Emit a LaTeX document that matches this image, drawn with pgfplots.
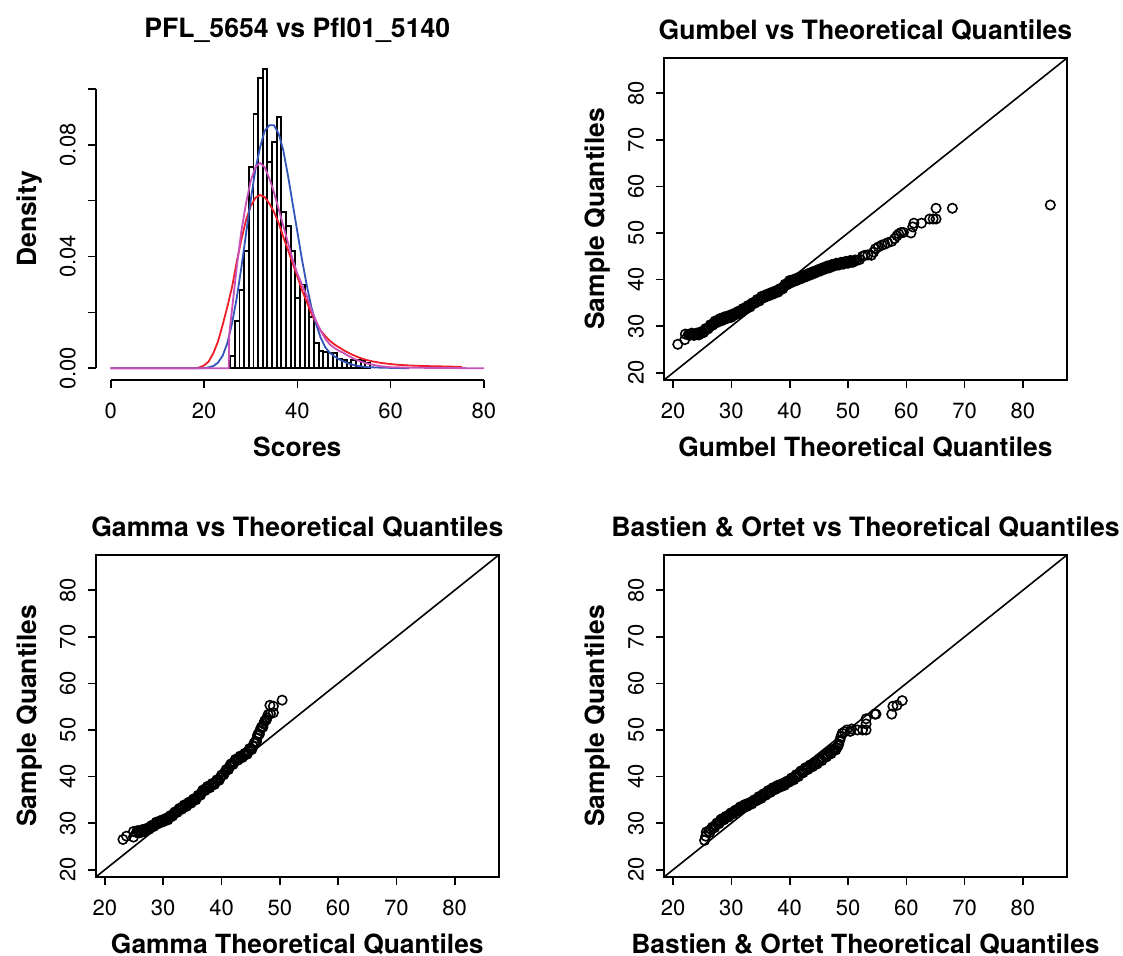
\documentclass[border=0pt]{standalone}
\usepackage{pgfplots}
\pgfplotsset{compat=1.18}
\usepackage{fontspec}
\setmainfont{TeX Gyre Heros}
\definecolor{cred}{RGB}{240,30,40}
\definecolor{cblue}{RGB}{50,85,185}
\definecolor{cpurple}{RGB}{200,80,185}
\newcommand{\labfont}{\fontsize{13.2}{15}\selectfont\bfseries}
\pgfplotsset{
  rstyle/.style={
    scale only axis, width=201.5pt, height=161pt, anchor=south west,
    /pgf/number format/assume math mode=true,
    tick align=outside, major tick length=4pt, tick pos=left,
    every tick/.style={black, line width=0.8pt},
    axis line style={line width=0.8pt},
    ticklabel style={font=\fontsize{11}{13}\selectfont},
    yticklabel style={rotate=90, anchor=south},
    xticklabel shift=4pt, yticklabel shift=2.5pt,
    every axis title/.style={at={(axis description cs:0.5,1)}, anchor=center, yshift=14pt, font=\fontsize{13.3}{15}\selectfont\bfseries},
    every axis x label/.style={at={(axis description cs:0.5,0)}, anchor=center, yshift=-33.5pt, font=\labfont},
    every axis y label/.style={at={(axis description cs:0,0.5)}, anchor=center, xshift=-33pt, rotate=90, font=\labfont},
  },
  qq/.style={rstyle, xmin=18.44, xmax=87.56, ymin=18.44, ymax=87.56,
    xtick={20,30,...,80}, ytick={20,30,...,80}, ylabel={Sample Quantiles}},
  qqpts/.style={only marks, mark=o, mark size=2.35pt, mark options={line width=0.8pt, black}},
}
\begin{document}
\begin{tikzpicture}
\path[use as bounding box] (0,0) rectangle (561.5pt,478pt);

% ---------------- Histogram ----------------
\begin{axis}[rstyle, at={(47.9pt,288pt)},
  xmin=-3.2, xmax=83.2, ymin=-0.0042, ymax=0.1111,
  axis x line*=bottom, axis y line*=left, axis line style={draw=none},
  xtick={0,20,40,60,80}, ytick={0,0.02,0.04,0.06,0.08,0.1},
  yticklabels={0.00,,0.04,,0.08,},
  title={PFL\_5654 vs Pfl01\_5140}, xlabel={Scores}, ylabel={Density}, clip=false]
\draw[line width=0.8pt] (axis cs:0,-0.0042) -- (axis cs:80,-0.0042);
\draw[line width=0.8pt] (axis cs:-3.2,0) -- (axis cs:-3.2,0.1);
\addplot[ybar interval, draw=black, fill=none, line width=0.95pt] coordinates {
(25.6,0.0044) (26.6,0.017) (27.6,0.028) (28.6,0.042) (29.6,0.072) (30.6,0.091)
(31.6,0.104) (32.6,0.107) (33.6,0.074) (34.6,0.081) (35.6,0.090) (36.6,0.056)
(37.6,0.051) (38.6,0.042) (39.6,0.025) (40.6,0.030) (41.6,0.024) (42.6,0.0185)
(43.6,0.0092) (44.6,0.0062) (45.6,0.0058) (46.6,0.0055) (47.6,0.0055) (48.6,0.0035)
(49.6,0.0028) (50.6,0.002) (51.6,0.0028) (52.6,0.0028) (53.6,0.0025) (54.6,0.0018) (55.6,0)};
\addplot[cred, line width=0.9pt, mark=none] coordinates {
(0,0) (18,0) (19,0.0003) (20,0.001) (21,0.0024) (22,0.0054) (23,0.0096) (24,0.0155)
(25,0.022) (26,0.029) (27,0.038) (28,0.046) (29,0.053) (30,0.058) (31,0.061) (32,0.062)
(33,0.0613) (34,0.059) (35,0.056) (36,0.052) (37,0.047) (38,0.0424) (39,0.0376) (40,0.0329)
(41,0.028) (42,0.0239) (43,0.0197) (44,0.0161) (45,0.0135) (46,0.0115) (47,0.0098)
(48,0.0085) (49,0.0074) (50,0.0064) (51,0.0055) (52,0.0047) (53,0.0040) (54,0.0034)
(55,0.0029) (56,0.0025) (58,0.0019) (60,0.0015) (62,0.0012) (64,0.0010) (67,0.0008)
(70,0.0007) (75.3,0.0005)};
\addplot[cblue, line width=0.9pt, mark=none] coordinates {
(0,0) (20,0) (21,0.0003) (22,0.0008) (23,0.002) (24,0.0045) (25,0.009) (26,0.016)
(27,0.025) (28,0.036) (29,0.048) (30,0.060) (31,0.071) (32,0.079) (33,0.085) (34,0.087)
(35,0.087) (36,0.084) (37,0.078) (38,0.069) (39,0.059) (40,0.049) (41,0.039) (42,0.030)
(43,0.022) (44,0.016) (45,0.011) (46,0.0075) (47,0.0055) (48,0.0042) (49,0.0032)
(50,0.0024) (51,0.0017) (52,0.0012) (53,0.0008) (55,0.0004) (58,0.0002) (64,0)};
\addplot[cpurple, line width=0.9pt, mark=none] coordinates {
(0,0) (25.3,0) (25.4,0.012) (26,0.021) (27,0.036) (28,0.049) (29,0.059) (30,0.067)
(31,0.072) (32,0.0735) (33,0.072) (34,0.068) (35,0.063) (36,0.057) (37,0.051) (38,0.045)
(39,0.039) (40,0.034) (41,0.030) (42,0.026) (43,0.021) (44,0.017) (45,0.0135) (46,0.0105)
(47,0.0085) (48,0.0072) (49,0.0062) (50,0.0054) (51,0.0044) (52,0.0035) (53,0.0028)
(54,0.0022) (55,0.0017) (56,0.0013) (58,0.0007) (60,0.0004) (64,0.0002) (70,0.0001) (80,0)};
\end{axis}

% ---------------- Gumbel ----------------
\begin{axis}[qq, at={(332pt,288pt)}, title={Gumbel vs Theoretical Quantiles},
  xlabel={Gumbel Theoretical Quantiles}]
\addplot[black, line width=0.8pt, mark=none] coordinates {(18.44,18.44) (87.56,87.56)};
\addplot[qqpts] table {
20.8 26.1
22.0 27.1
22.1 28.3
22.6 28.2
23.0 28.2
23.4 28.2
23.8 28.3
24.2 28.3
24.6 28.4
25.0 28.6
25.4 29.0
25.8 29.4
26.2 29.8
26.6 30.3
27.0 30.7
27.4 31.0
27.8 31.2
28.2 31.4
28.6 31.6
29.0 31.8
29.4 31.9
29.8 32.1
30.2 32.3
30.6 32.6
31.0 32.9
31.4 33.1
31.8 33.4
32.2 33.7
32.6 34.0
33.0 34.3
33.4 34.6
33.8 35.0
34.2 35.3
34.6 35.6
35.0 35.9
35.4 36.2
35.8 36.5
36.2 36.7
36.6 36.9
37.0 37.1
37.4 37.3
37.8 37.5
38.2 37.7
38.6 38.0
39.0 38.5
39.4 39.0
39.8 39.4
40.2 39.6
40.6 39.8
41.0 40.0
41.4 40.2
41.8 40.4
42.2 40.6
42.6 40.8
43.0 41.0
43.4 41.2
43.8 41.4
44.2 41.6
44.6 41.8
45.0 42.0
45.4 42.2
45.8 42.4
46.2 42.6
46.6 42.8
47.0 42.9
47.4 43.1
47.8 43.2
48.2 43.3
48.6 43.4
49.0 43.5
49.4 43.6
49.8 43.7
50.2 43.8
50.6 43.9
51.0 44.0
51.5 44.1
52.0 44.3
52.5 45.0
52.9 45.2
53.4 45.3
54.0 45.2
54.4 45.9
54.7 46.6
55.2 47.0
55.8 47.4
56.3 47.6
56.8 47.9
57.5 48.2
58.0 48.8
58.4 49.4
58.7 49.8
59.1 50.1
59.5 50.1
60.8 50.0
61.1 51.3
61.3 52.1
62.6 52.1
64.0 53.0
64.6 53.0
65.1 53.0
65.1 55.3
67.9 55.3
84.7 56.0
};
\addplot[qqpts] table {
22.8 28.0
23.2 28.5
23.6 28.0
24.0 28.5
24.4 28.1
24.8 28.8
25.2 28.6
25.6 29.5
26.0 29.4
26.4 30.3
26.8 30.2
27.2 31.1
27.6 30.8
28.0 31.6
28.4 31.2
28.8 32.0
29.2 31.6
29.6 32.3
30.0 31.9
30.4 32.7
30.8 32.5
31.2 33.2
31.6 32.9
32.0 33.8
32.4 33.6
32.8 34.4
33.2 34.1
33.6 35.0
34.0 34.9
34.4 35.7
34.8 35.4
35.2 36.4
35.6 36.1
36.0 36.8
36.4 36.5
36.8 37.2
37.2 36.9
37.6 37.6
38.0 37.3
38.4 38.1
38.8 38.0
39.2 39.0
39.6 38.9
40.0 39.8
40.4 39.4
40.8 40.1
41.2 39.8
41.6 40.5
42.0 40.2
42.4 40.9
42.8 40.6
43.2 41.3
43.6 41.0
44.0 41.7
44.4 41.4
44.8 42.1
45.2 41.8
45.6 42.5
46.0 42.2
46.4 42.9
46.8 42.5
47.2 43.2
47.6 42.9
48.0 43.5
48.4 43.1
48.8 43.7
49.2 43.3
49.6 43.9
50.0 43.5
50.4 44.1
50.8 43.7
51.2 44.2
};
\end{axis}

% ---------------- Gamma ----------------
\begin{axis}[qq, at={(47.9pt,39.5pt)}, title={Gamma vs Theoretical Quantiles},
  xlabel={Gamma Theoretical Quantiles}]
\addplot[black, line width=0.8pt, mark=none] coordinates {(18.44,18.44) (87.56,87.56)};
\addplot[qqpts] table {
23.1 26.5
23.7 27.2
24.9 27.0
24.9 28.2
25.4 28.0
25.8 28.1
26.2 28.2
26.6 28.3
27.0 28.5
27.4 28.8
27.8 29.1
28.2 29.4
28.6 29.8
29.0 30.1
29.4 30.3
29.8 30.5
30.2 30.7
30.6 30.9
31.0 31.1
31.4 31.5
31.8 32.0
32.2 32.4
32.6 32.8
33.0 33.2
33.4 33.5
33.8 33.8
34.2 34.1
34.6 34.4
35.0 34.8
35.4 35.1
35.8 35.5
36.2 36.0
36.6 36.6
37.0 37.1
37.4 37.5
37.8 37.8
38.2 38.1
38.6 38.4
39.0 38.8
39.4 39.3
39.8 39.8
40.2 40.4
40.6 41.0
41.0 41.6
41.4 42.2
41.8 42.7
42.2 43.2
42.6 43.7
43.0 44.0
43.4 44.3
43.8 44.6
44.2 44.9
44.6 45.4
45.0 45.9
45.4 46.5
45.8 47.4
46.1 48.3
46.3 49.1
46.6 49.9
46.9 50.6
47.2 51.3
47.5 52.0
47.8 52.6
48.0 53.3
48.4 53.5
48.9 53.7
48.3 55.3
48.9 55.1
50.4 56.4
};
\addplot[qqpts] table {
25.6 28.4
26.0 27.9
26.4 28.6
26.8 28.2
27.2 28.9
27.6 28.7
28.0 29.5
28.4 29.3
28.8 30.2
29.2 29.9
29.6 30.6
30.0 30.3
30.4 31.0
30.8 30.7
31.2 31.6
31.6 31.5
32.0 32.4
32.4 32.3
32.8 33.2
33.2 33.0
33.6 33.9
34.0 33.6
34.4 34.5
34.8 34.3
35.2 35.2
35.6 35.0
36.0 36.0
36.4 36.0
36.8 37.1
37.2 37.0
37.6 37.9
38.0 37.6
38.4 38.5
38.8 38.3
39.2 39.3
39.6 39.2
40.0 40.3
40.4 40.4
40.8 41.5
41.2 41.5
41.6 42.7
42.0 42.6
42.4 43.7
42.8 43.5
43.2 44.4
43.6 44.1
44.0 45.0
44.4 44.8
44.8 46.0
45.2 45.8
45.6 47.2
46.0 47.5
46.2 48.9
46.5 49.1
46.8 50.5
47.1 50.6
47.4 51.9
47.7 52.2
};
\end{axis}

% ---------------- Bastien & Ortet ----------------
\begin{axis}[qq, at={(332pt,39.5pt)}, title={Bastien \& Ortet vs Theoretical Quantiles},
  xlabel={Bastien \& Ortet Theoretical Quantiles}]
\addplot[black, line width=0.8pt, mark=none] coordinates {(18.44,18.44) (87.56,87.56)};
\addplot[qqpts] table {
25.4 26.3
25.6 27.2
25.7 28.1
26.1 28.3
26.5 28.7
26.9 29.2
27.3 29.6
27.7 30.1
28.1 30.6
28.5 30.9
28.9 31.2
29.3 31.5
29.7 31.8
30.1 32.1
30.5 32.4
30.9 32.8
31.3 33.1
31.7 33.4
32.1 33.6
32.5 33.8
32.9 34.0
33.3 34.3
33.7 34.6
34.1 34.9
34.5 35.2
34.9 35.5
35.3 35.8
35.7 36.1
36.1 36.5
36.5 36.8
36.9 37.1
37.3 37.4
37.7 37.6
38.1 37.9
38.5 38.1
38.9 38.3
39.3 38.5
39.7 38.9
40.1 39.2
40.5 39.5
40.9 39.8
41.3 40.2
41.7 40.6
42.1 41.0
42.5 41.4
42.9 41.7
43.3 42.0
43.7 42.3
44.1 42.6
44.5 42.9
44.9 43.2
45.3 43.6
45.7 44.0
46.1 44.4
46.5 44.8
46.9 45.2
47.3 45.5
47.7 45.8
48.1 46.2
48.4 47.0
48.6 47.8
48.8 48.6
49.0 49.3
49.4 49.6
49.8 50.0
50.4 49.7
50.6 50.2
51.6 50.0
52.5 50.0
53.1 50.0
53.1 51.3
53.1 52.4
54.6 53.4
54.8 53.4
57.5 53.4
57.7 55.1
58.4 55.3
59.3 56.3
};
\addplot[qqpts] table {
26.3 28.0
26.7 29.1
27.1 29.0
27.5 30.0
27.9 29.9
28.3 30.9
28.7 30.7
29.1 31.5
29.5 31.3
29.9 32.2
30.3 32.0
30.7 32.8
31.1 32.6
31.5 33.5
31.9 33.2
32.3 34.0
32.7 33.6
33.1 34.4
33.5 34.1
33.9 35.0
34.3 34.8
34.7 35.7
35.1 35.3
35.5 36.3
35.9 36.0
36.3 37.0
36.7 36.6
37.1 37.6
37.5 37.2
37.9 38.1
38.3 37.7
38.7 38.5
39.1 38.1
39.5 39.0
39.9 38.8
40.3 39.7
40.7 39.3
41.1 40.4
41.5 40.0
41.9 41.2
42.3 40.8
42.7 41.9
43.1 41.5
43.5 42.5
43.9 42.1
44.3 43.1
44.7 42.7
45.1 43.8
45.5 43.4
45.9 44.6
46.3 44.2
46.7 45.3
47.1 44.9
47.5 45.9
47.9 45.7
48.3 46.6
};
\end{axis}
\end{tikzpicture}
\end{document}
